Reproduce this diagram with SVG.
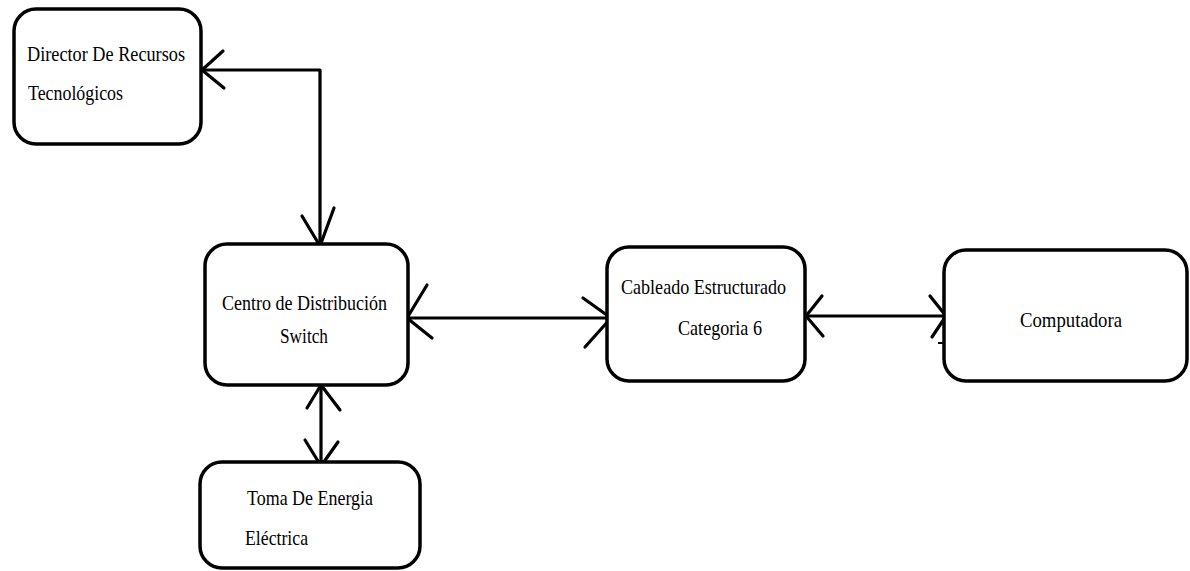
<svg xmlns="http://www.w3.org/2000/svg" width="1190" height="571" viewBox="0 0 1190 571">
<style>
.box{fill:#fff;stroke:#000;stroke-width:3.5}
.ln{fill:none;stroke:#000;stroke-width:3.2;stroke-linecap:round;stroke-linejoin:round}
text{font-family:"Liberation Serif","Times New Roman",serif;font-size:21px;fill:#000}
</style>
<rect width="1190" height="571" fill="#fff"/>
<g id="connectors">
<path class="ln" d="M202,70 H320 V246"/>
<path class="ln" d="M223,51 L202,70 L224,88"/>
<path class="ln" d="M302,216 L320,246 L334,208"/>
<path class="ln" d="M407,318 H611"/>
<path class="ln" d="M427,285 L407,318 L432,338"/>
<path class="ln" d="M583,298 L611,318 L585,347"/>
<path class="ln" d="M806,316 H946"/>
<path class="ln" d="M822,296 L806,316 L823,336"/>
<path class="ln" d="M930,296 L946,316 L932,337"/>
<path d="M938,343 H943" stroke="#000" stroke-width="2"/>
<path class="ln" d="M321,385 V466"/>
<path class="ln" d="M307,408 L321,385 L340,410"/>
<path class="ln" d="M305,440 L321,466 L338,442"/>
</g>
<g id="director">
<rect class="box" x="14" y="9" width="187" height="135" rx="22"/>
<text x="27" y="61" textLength="158" lengthAdjust="spacingAndGlyphs">Director De Recursos</text>
<text x="28" y="100" textLength="95" lengthAdjust="spacingAndGlyphs">Tecnológicos</text>
</g>
<g id="centro">
<rect class="box" x="205" y="244" width="203" height="141" rx="22"/>
<text x="222" y="310" textLength="165" lengthAdjust="spacingAndGlyphs">Centro de Distribución</text>
<text x="280" y="343" textLength="48" lengthAdjust="spacingAndGlyphs">Switch</text>
</g>
<g id="cableado">
<rect class="box" x="607" y="247" width="198" height="134" rx="22"/>
<text x="621" y="294" textLength="165" lengthAdjust="spacingAndGlyphs">Cableado Estructurado</text>
<text x="678" y="335" textLength="84" lengthAdjust="spacingAndGlyphs">Categoria 6</text>
</g>
<g id="computadora">
<rect class="box" x="944" y="250" width="243" height="131" rx="22"/>
<text x="1020" y="327" textLength="102" lengthAdjust="spacingAndGlyphs">Computadora</text>
</g>
<g id="toma">
<rect class="box" x="200" y="462" width="220" height="106" rx="22"/>
<text x="247" y="505" textLength="126" lengthAdjust="spacingAndGlyphs">Toma De Energia</text>
<text x="245" y="545" textLength="63" lengthAdjust="spacingAndGlyphs">Eléctrica</text>
</g>
</svg>
